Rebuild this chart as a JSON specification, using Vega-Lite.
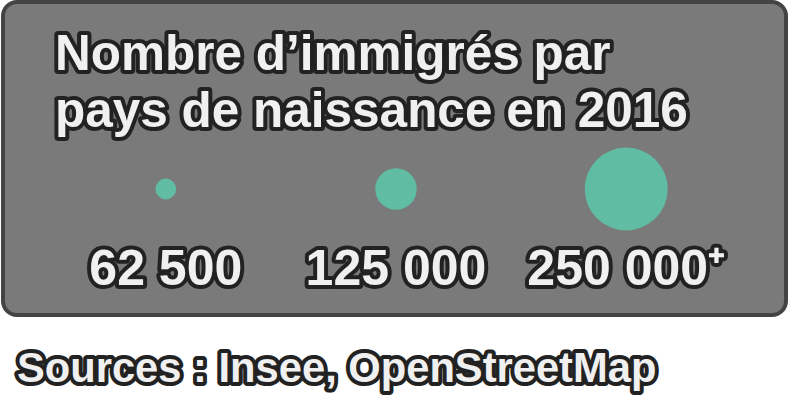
{
  "$schema": "https://vega.github.io/schema/vega-lite/v6.json",
  "width": 788,
  "height": 404,
  "autosize": {"type": "fit", "contains": "padding"},
  "padding": 0,
  "background": "#ffffff",
  "config": {"view": {"stroke": null}},
  "resolve": {"scale": {"x": "independent"}},
  "layer": [
    {
      "data": {"values": [{"item": "frame"}]},
      "layer": [
        {
          "mark": {"type": "rect", "fill": "#7a7a7a", "stroke": "#444444", "strokeWidth": 4, "cornerRadius": 14},
          "encoding": {
            "x": {"datum": 2, "type": "quantitative", "scale": {"domain": [0, 788], "nice": false, "zero": false}, "axis": null},
            "x2": {"datum": 786},
            "y": {"datum": 2, "type": "quantitative", "scale": {"domain": [0, 404], "nice": false, "zero": false, "reverse": true}, "axis": null},
            "y2": {"datum": 315}
          }
        },
        {
          "mark": {"type": "text", "text": ["Nombre d’immigrés par", "pays de naissance en 2016"], "lineHeight": 57, "font": "Liberation Sans", "fontWeight": "bold", "fontSize": 49.5, "align": "left", "baseline": "alphabetic", "fill": "#222222", "stroke": "#222222", "strokeWidth": 8, "strokeJoin": "round"},
          "encoding": {
            "x": {"datum": 54, "type": "quantitative"},
            "y": {"datum": 70, "type": "quantitative"}
          }
        },
        {
          "mark": {"type": "text", "text": ["Nombre d’immigrés par", "pays de naissance en 2016"], "lineHeight": 57, "font": "Liberation Sans", "fontWeight": "bold", "fontSize": 49.5, "align": "left", "baseline": "alphabetic", "fill": "#f0f0f0"},
          "encoding": {
            "x": {"datum": 54, "type": "quantitative"},
            "y": {"datum": 70, "type": "quantitative"}
          }
        },
        {
          "mark": {"type": "text", "text": "Sources : Insee, OpenStreetMap", "font": "Liberation Sans", "fontWeight": "bold", "fontSize": 41.7, "align": "left", "baseline": "alphabetic", "fill": "#222222", "stroke": "#222222", "strokeWidth": 8, "strokeJoin": "round"},
          "encoding": {
            "x": {"datum": 16, "type": "quantitative"},
            "y": {"datum": 382, "type": "quantitative"}
          }
        },
        {
          "mark": {"type": "text", "text": "Sources : Insee, OpenStreetMap", "font": "Liberation Sans", "fontWeight": "bold", "fontSize": 41.7, "align": "left", "baseline": "alphabetic", "fill": "#f0f0f0"},
          "encoding": {
            "x": {"datum": 16, "type": "quantitative"},
            "y": {"datum": 382, "type": "quantitative"}
          }
        }
      ]
    },
    {
      "data": {"values": [
        {"value": 62500, "label": "62 500"},
        {"value": 125000, "label": "125 000"},
        {"value": 250000, "label": "250 000⁺"}
      ]},
      "encoding": {
        "x": {"field": "value", "type": "quantitative", "scale": {"type": "log", "domain": [38052, 406930], "nice": false}, "axis": null}
      },
      "layer": [
        {
          "mark": {"type": "point", "shape": "circle", "filled": true, "fill": "#60bca2", "opacity": 1, "strokeWidth": 0},
          "encoding": {
            "y": {"datum": 189, "type": "quantitative"},
            "size": {"field": "value", "type": "quantitative", "scale": {"type": "pow", "exponent": 2, "domain": [0, 250000], "range": [0, 6889]}, "legend": null}
          }
        },
        {
          "mark": {"type": "text", "font": "Liberation Sans", "fontWeight": "bold", "fontSize": 50, "align": "center", "baseline": "alphabetic", "fill": "#222222", "stroke": "#222222", "strokeWidth": 8, "strokeJoin": "round"},
          "encoding": {
            "y": {"datum": 285, "type": "quantitative"},
            "text": {"field": "label"}
          }
        },
        {
          "mark": {"type": "text", "font": "Liberation Sans", "fontWeight": "bold", "fontSize": 50, "align": "center", "baseline": "alphabetic", "fill": "#f0f0f0"},
          "encoding": {
            "y": {"datum": 285, "type": "quantitative"},
            "text": {"field": "label"}
          }
        }
      ]
    }
  ]
}
